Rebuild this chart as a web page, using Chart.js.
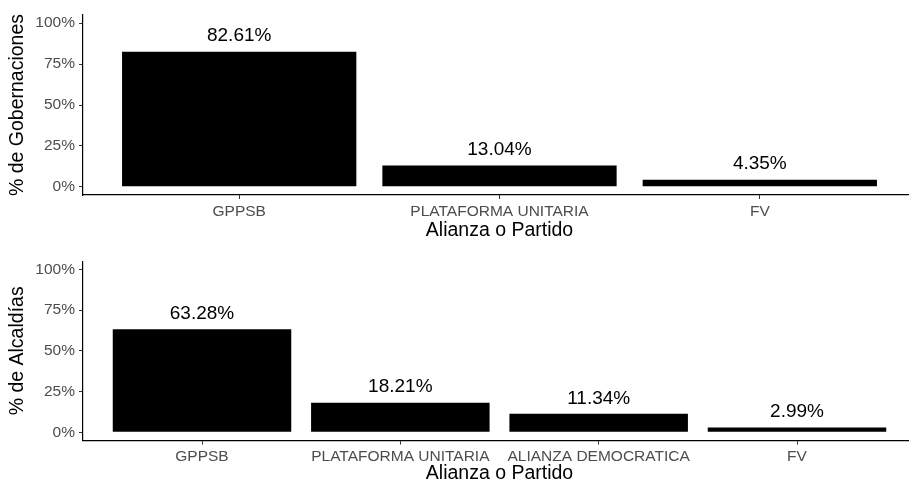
<!DOCTYPE html>
<html>
<head>
<meta charset="utf-8">
<script src="https://cdn.jsdelivr.net/npm/chart.js@4/dist/chart.umd.min.js"></script>
<style>
    html, body { margin: 0; padding: 0; background: #fff; overflow: hidden; width: 909px; height: 482px; }
    .panel { position: absolute; left: 0; }
    #topPanel { top: 0; }
    #bottomPanel { top: 241px; }
</style>
</head>
<body>
<div class="panel" id="topPanel"><canvas id="gobChart" width="916" height="260"></canvas></div>
<div class="panel" id="bottomPanel"><canvas id="alcChart" width="916" height="260"></canvas></div>
<script>
    const gobLabels = ['GPPSB', 'PLATAFORMA UNITARIA', 'FV'];
    const gobValues = [82.61, 13.04, 4.35];

    const alcLabels = ['GPPSB', 'PLATAFORMA UNITARIA', 'ALIANZA DEMOCRATICA', 'FV'];
    const alcValues = [63.28, 18.21, 11.34, 2.99];

    const yTicks = [0, 25, 50, 75, 100];
    const xTitle = 'Alianza o Partido';

    const FONT = "'Liberation Sans', Arial, Helvetica, sans-serif";
    const PAD_LEFT = 8.3;

    // etiquetas sobre las barras
    const barLabels = {
        id: 'barLabels',
        afterDatasetsDraw(chart) {
            const ctx = chart.ctx;
            const meta = chart.getDatasetMeta(0);
            const values = chart.data.datasets[0].data;
            ctx.save();
            ctx.font = '19px ' + FONT;
            ctx.fillStyle = '#000';
            ctx.textAlign = 'center';
            ctx.textBaseline = 'middle';
            meta.data.forEach((bar, i) => {
                ctx.fillText(values[i].y.toFixed(2) + '%', bar.x, bar.y - 15.5);
            });
            ctx.restore();
        }
    };

    function makeChart(id, labels, values, yTitle, lay) {
        const axisH = lay.titleY - lay.bottom + 9.75;
        return new Chart(document.getElementById(id).getContext('2d'), {
            type: 'bar',
            data: {
                datasets: [{
                    data: values.map((v, i) => ({ x: i + 1, y: v })),
                    backgroundColor: '#000',
                    borderWidth: 0,
                    barPercentage: 0.9,
                    categoryPercentage: 1.0
                }]
            },
            options: {
                responsive: false,
                animation: false,
                layout: {
                    padding: { left: PAD_LEFT, right: 0, top: lay.top, bottom: 260 - lay.bottom - axisH }
                },
                plugins: {
                    legend: { display: false },
                    tooltip: { enabled: false }
                },
                scales: {
                    x: {
                        type: 'linear',
                        offset: false,
                        min: 0.4,
                        max: labels.length + 0.6,
                        afterBuildTicks: s => { s.ticks = labels.map((l, i) => ({ value: i + 1 })); },
                        afterFit: s => { s.height = axisH; },
                        ticks: {
                            autoSkip: false,
                            maxRotation: 0,
                            padding: 3,
                            color: '#4d4d4d',
                            font: { family: FONT, size: 15.5 },
                            callback: v => labels[v - 1]
                        },
                        grid: { offset: false, drawOnChartArea: false, tickLength: 4, color: '#333', lineWidth: 1 },
                        border: { display: true, color: '#000', width: 1.2 },
                        title: {
                            display: true,
                            text: xTitle,
                            color: '#000',
                            padding: 0,
                            font: { family: FONT, size: 19.5, lineHeight: 1 }
                        }
                    },
                    y: {
                        min: -5,
                        max: 105,
                        afterBuildTicks: s => { s.ticks = yTicks.map(v => ({ value: v })); },
                        afterFit: s => { s.width = 83 - PAD_LEFT; },
                        ticks: {
                            padding: 4,
                            color: '#4d4d4d',
                            font: { family: FONT, size: 15.5 },
                            callback: v => v + '%'
                        },
                        grid: { drawOnChartArea: false, tickLength: 4, color: '#333', lineWidth: 1 },
                        border: { display: true, color: '#000', width: 1.2 },
                        title: {
                            display: true,
                            text: yTitle,
                            color: '#000',
                            padding: 0,
                            font: { family: FONT, size: 19.5, lineHeight: 1 }
                        }
                    }
                }
            },
            plugins: [barLabels]
        });
    }

    // Gobernaciones
    makeChart('gobChart', gobLabels, gobValues, '% de Gobernaciones', { top: 15, bottom: 195, titleY: 231 });

    // Alcaldías
    makeChart('alcChart', alcLabels, alcValues, '% de Alcaldías', { top: 20.2, bottom: 199.5, titleY: 233 });
</script>
</body>
</html>
